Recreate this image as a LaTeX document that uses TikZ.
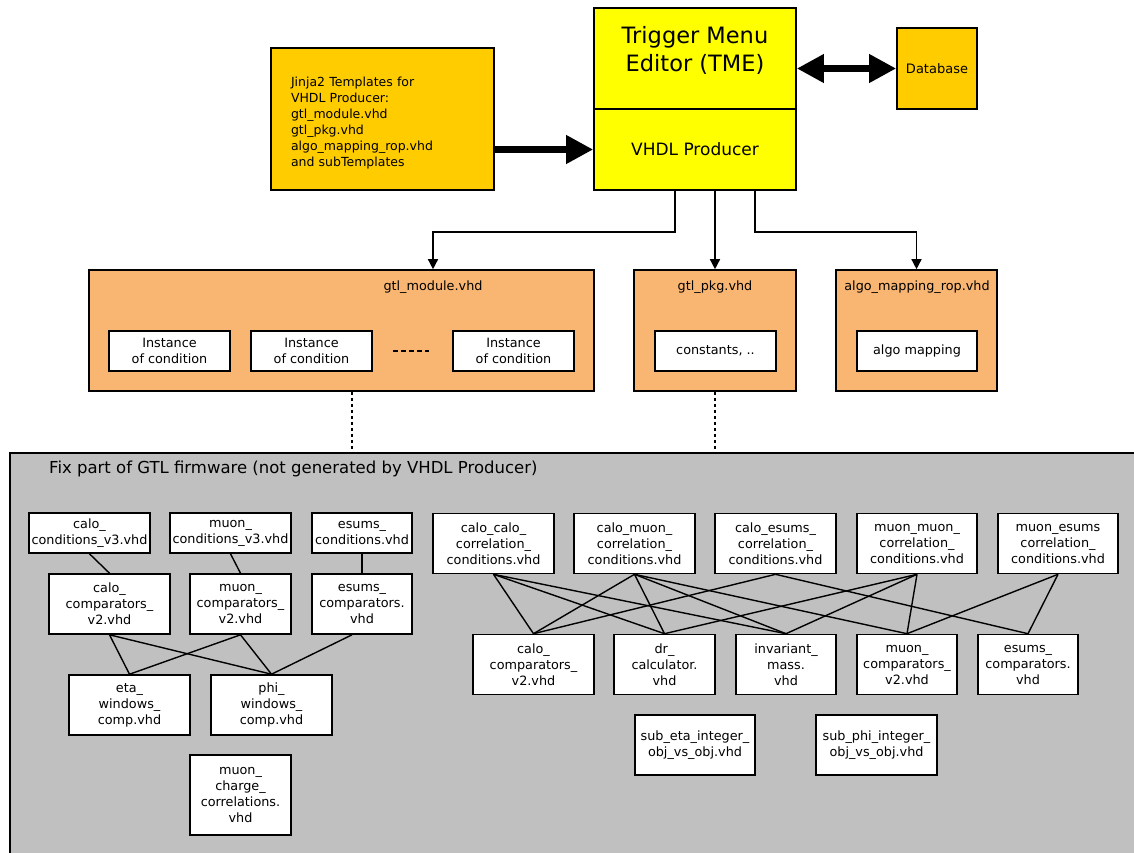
\documentclass[tikz,border=0pt]{standalone}
\usepackage{fontspec}
\setmainfont{DejaVu Sans}
\usetikzlibrary{arrows.meta}

\definecolor{jinjaorange}{HTML}{FFCC00}
\definecolor{tmeyellow}{HTML}{FFFF00}
\definecolor{fileorange}{HTML}{F9B672}
\definecolor{fixgray}{HTML}{C0C0C0}

\begin{document}
\begin{tikzpicture}[x=1pt, y=-1pt,
        font=\fontsize{12.8}{16}\selectfont,
        box/.style={draw, line width=1.6pt, inner sep=0pt, align=center},
        filebox/.style={box, fill=white},
        hdlbox/.style={box, fill=fileorange, minimum height=121pt},
        link/.style={line width=1.4pt},
        feed/.style={link, -{Triangle[length=10pt, width=10pt]}},
        fatarrow/.style={line width=7pt, -{Triangle[length=27pt, width=27pt]}},
        fatboth/.style={line width=7pt, {Triangle[length=27pt, width=27pt]}-{Triangle[length=27pt, width=27pt]}}]
        \useasboundingbox (0, 0) rectangle (1134, 852);

        % fix part of the firmware
        \node[draw, fill=fixgray, line width=2pt, minimum width=1150pt, minimum height=420pt, anchor=north west, inner sep=0pt] (fixpart) at (9, 452) {};
        \node[anchor=west, inner sep=0pt, font=\fontsize{16.5}{20}\selectfont] (fixlabel) at (49, 468.5) {Fix part of GTL firmware (not generated by VHDL Producer)};

        % editor and producer
        \node[box, fill=jinjaorange, minimum width=223pt, minimum height=142pt] (jinja) at (382.5, 119) {};
        \node[text width=183pt, align=left, inner sep=0pt, font=\fontsize{12.5}{16}\selectfont] (jinjatext) at (382.5, 123) {Jinja2 Templates for\\VHDL Producer:\\gtl\_module.vhd\\gtl\_pkg.vhd\\algo\_mapping\_rop.vhd\\and subTemplates};
        \node[box, fill=tmeyellow, minimum width=202pt, minimum height=101pt] (tme) at (695, 58.5) {};
        \node[align=center, font=\fontsize{22.5}{28}\selectfont] (tmetitle) at (695, 50) {Trigger Menu\\Editor (TME)};
        \node[box, fill=tmeyellow, minimum width=202pt, minimum height=81pt, font=\fontsize{17}{20}\selectfont] (vhdl) at (695, 149.5) {VHDL Producer};
        \node[box, fill=jinjaorange, minimum width=80pt, minimum height=81pt, font=\fontsize{13}{16}\selectfont] (db) at (937, 68.5) {Database};

        \draw[fatarrow] (jinja.east |- vhdl.west) -- (vhdl.west);
        \draw[fatboth] (tme.east |- db.west) -- (db.west);

        % generated files
        \node[hdlbox, minimum width=505pt] (module) at (341.5, 330.5) {};
        \node (modulename) at (433, 287) {gtl\_module.vhd};
        \foreach \name/\x in {inst1/169.5, inst2/311.5, inst3/513.5} {
            \node[filebox, minimum width=121pt, minimum height=40pt] (\name) at (\x, 351) {Instance\\of condition};
        }
        \draw[link, dash pattern=on 5pt off 3pt] ([xshift=20pt]inst2.east) -- ([xshift=-23pt]inst3.west);

        \node[hdlbox, minimum width=162pt] (pkg) at (715, 330.5) {};
        \node (pkgname) at (715, 287) {gtl\_pkg.vhd};
        \node[filebox, minimum width=121pt, minimum height=40pt] (constants) at (715.5, 351) {constants, ..};

        \node[hdlbox, minimum width=161pt] (algo) at (916.5, 330.5) {};
        \node (algoname) at (917, 287) {algo\_mapping\_rop.vhd};
        \node[filebox, minimum width=120pt, minimum height=40pt] (mapping) at (917, 351) {algo mapping};

        \draw[feed] ([xshift=-20pt]vhdl.south) -- ++(0, 41) -| (modulename |- module.north);
        \draw[feed] ([xshift=20pt]vhdl.south) -- (pkg.north);
        \draw[feed] ([xshift=60pt]vhdl.south) -- ++(0, 41) -| (algo.north);

        \draw[link, dash pattern=on 3pt off 3pt] ([xshift=10.5pt]module.south) -- ([xshift=10.5pt]module.south |- fixpart.north);
        \draw[link, dash pattern=on 3pt off 3pt] (pkg.south) -- (pkg.south |- fixpart.north);

        % single object conditions
        \node[filebox, minimum width=121pt, minimum height=40pt] (calocond) at (89.5, 533) {calo\_\\conditions\_v3.vhd};
        \node[filebox, minimum width=121pt, minimum height=40pt] (muoncond) at (230.5, 533) {muon\_\\conditions\_v3.vhd};
        \node[filebox, minimum width=100pt, minimum height=40pt] (esumscond) at (362, 533) {esums\_\\conditions.vhd};
        \node[filebox, minimum width=121pt, minimum height=60pt] (calocmp) at (109.5, 604) {calo\_\\comparators\_\\v2.vhd};
        \node[filebox, minimum width=101pt, minimum height=60pt] (muoncmp) at (240.5, 604) {muon\_\\comparators\_\\v2.vhd};
        \node[filebox, minimum width=100pt, minimum height=60pt] (esumscmp) at (362, 604) {esums\_\\comparators.\\vhd};
        \node[filebox, minimum width=121pt, minimum height=60pt] (etawin) at (129.5, 705) {eta\_\\windows\_\\comp.vhd};
        \node[filebox, minimum width=121pt, minimum height=60pt] (phiwin) at (271.5, 705) {phi\_\\windows\_\\comp.vhd};
        \node[filebox, minimum width=101pt, minimum height=80pt] (charge) at (240.5, 795) {muon\_\\charge\_\\correlations.\\vhd};

        \foreach \a/\b in {calocond/calocmp, muoncond/muoncmp, esumscond/esumscmp, calocmp/etawin, calocmp/phiwin, muoncmp/etawin, muoncmp/phiwin} {
            \draw[link] (\a.south) -- (\b.north);
        }
        \draw[link] ([xshift=-10pt]esumscmp.south) -- (phiwin.north);

        % correlation conditions
        \node[filebox, minimum width=121pt, minimum height=60pt] (calocalo) at (493.5, 543.5) {calo\_calo\_\\correlation\_\\conditions.vhd};
        \node[filebox, minimum width=121pt, minimum height=60pt] (calomuon) at (634.5, 543.5) {calo\_muon\_\\correlation\_\\conditions.vhd};
        \node[filebox, minimum width=121pt, minimum height=60pt] (caloesums) at (775.5, 543.5) {calo\_esums\_\\correlation\_\\conditions.vhd};
        \node[filebox, minimum width=120pt, minimum height=60pt] (muonmuon) at (917, 543.5) {muon\_muon\_\\correlation\_\\conditions.vhd};
        \node[filebox, minimum width=120pt, minimum height=60pt] (muonesums) at (1058, 543.5) {muon\_esums\\correlation\_\\conditions.vhd};

        \node[filebox, minimum width=121pt, minimum height=60pt] (corrcalocmp) at (533.5, 664.5) {calo\_\\comparators\_\\v2.vhd};
        \node[filebox, minimum width=101pt, minimum height=60pt] (drcalc) at (664.5, 664.5) {dr\_\\calculator.\\vhd};
        \node[filebox, minimum width=100pt, minimum height=60pt] (invmass) at (786, 664.5) {invariant\_\\mass.\\vhd};
        \node[filebox, minimum width=100pt, minimum height=60pt] (corrmuoncmp) at (907, 664.5) {muon\_\\comparators\_\\v2.vhd};
        \node[filebox, minimum width=100pt, minimum height=60pt] (corresumscmp) at (1028, 664.5) {esums\_\\comparators.\\vhd};

        \node[filebox, minimum width=120pt, minimum height=60pt] (subeta) at (695, 745) {sub\_eta\_integer\_\\obj\_vs\_obj.vhd};
        \node[filebox, minimum width=121pt, minimum height=60pt] (subphi) at (876.5, 745) {sub\_phi\_integer\_\\obj\_vs\_obj.vhd};

        \foreach \a/\b in {calocalo/corrcalocmp, calocalo/drcalc, calocalo/invmass,
                calomuon/corrcalocmp, calomuon/drcalc, calomuon/invmass, calomuon/corrmuoncmp,
                caloesums/corrcalocmp, caloesums/corresumscmp,
                muonmuon/drcalc, muonmuon/invmass, muonmuon/corrmuoncmp,
                muonesums/corrmuoncmp, muonesums/corresumscmp} {
            \draw[link] (\a.south) -- (\b.north);
        }
    \end{tikzpicture}
\end{document}
